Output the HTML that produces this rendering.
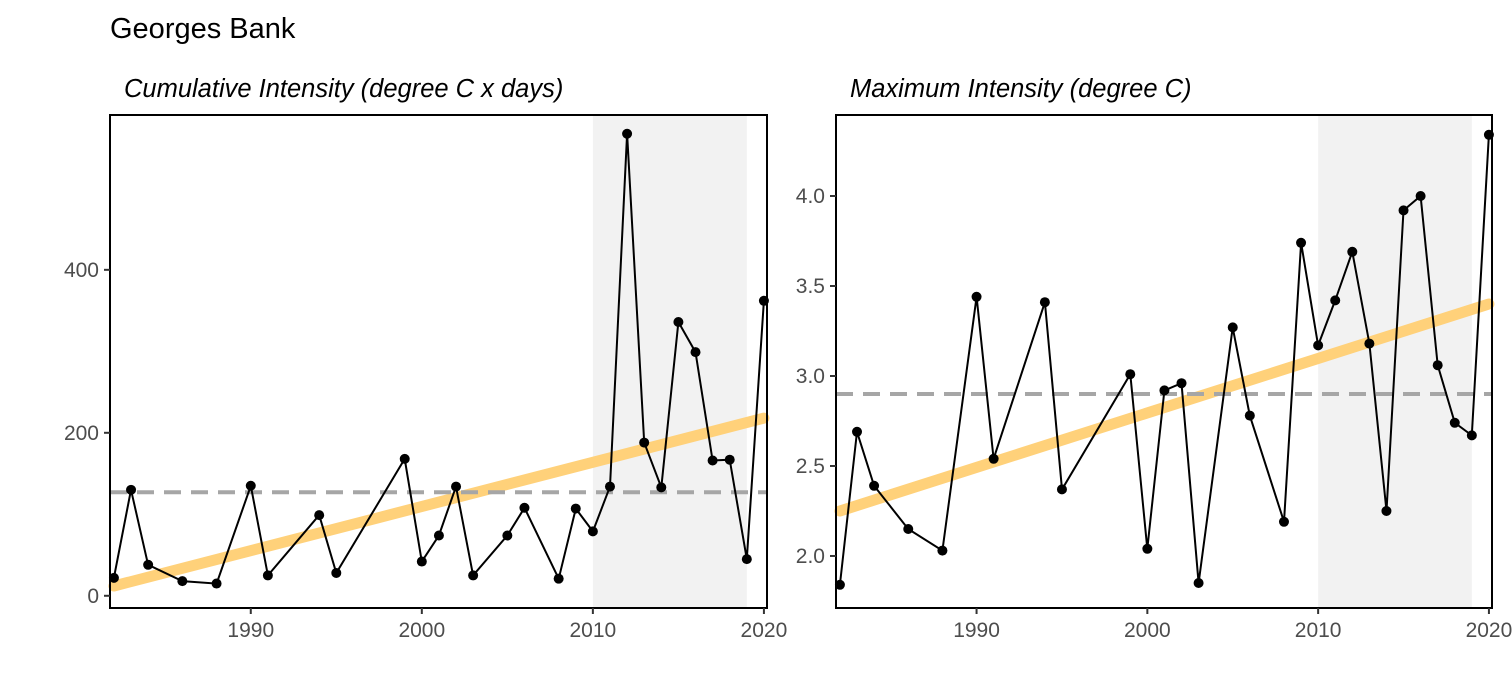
<!DOCTYPE html>
<html><head><meta charset="utf-8"><style>
body{margin:0;background:#fff;}
svg text{font-family:"Liberation Sans",sans-serif;}
</style></head><body>
<svg id="c" width="1512" height="680" xmlns="http://www.w3.org/2000/svg">
<text x="110" y="38" font-size="29" fill="#000">Georges Bank</text>
</svg>
<script>
const years=[1982,1983,1984,1986,1988,1990,1991,1994,1995,1999,2000,2001,2002,2003,2005,2006,2008,2009,2010,2011,2012,2013,2014,2015,2016,2017,2018,2019,2020];
const cumValues=[22,130,38,18,15,135,25,99,28,168,42,74,134,25,74,108,21,107,79,134,567,188,133,336,299,166,167,45,362];
const maxValues=[1.84,2.69,2.39,2.15,2.03,3.44,2.54,3.41,2.37,3.01,2.04,2.92,2.96,1.85,3.27,2.78,2.19,3.74,3.17,3.42,3.69,3.18,2.25,3.92,4.00,3.06,2.74,2.67,4.34];
const cumTrend=[12,218];
const maxTrend=[2.25,3.40];
const cumMean=[127];
const maxMean=[2.90];
const shadeYears=[2010,2019];
const xTicks=[1990,2000,2010,2020];
const cumTicks=[0,200,400];
const maxTicks=[2.0,2.5,3.0,3.5,4.0];
const maxTickLabels=["2.0","2.5","3.0","3.5","4.0"];

const svg=document.getElementById('c');
const NS='http://www.w3.org/2000/svg';
function el(tag,attrs,parent){const e=document.createElementNS(NS,tag);for(const k in attrs)e.setAttribute(k,attrs[k]);(parent||svg).appendChild(e);return e;}

function panel(cfg){
  const g=el('g',{});
  
  
  const L=cfg.left,R=cfg.right,T=115,B=608;
  const x=v=>L+(v-1981.77)/(2020.18-1981.77)*(R-L);
  const y=v=>B-(v-cfg.ymin)/(cfg.ymax-cfg.ymin)*(B-T);
  const sh=el('rect',{x:x(shadeYears[0]),y:T,width:x(shadeYears[1])-x(shadeYears[0]),height:B-T,fill:'#f2f2f2'},g);
  
  
  const tr=el('line',{x1:x(1982),y1:y(cfg.trend[0]),x2:x(2020),y2:y(cfg.trend[1]),stroke:'#ffd17a',"stroke-width":11,"stroke-linecap":"round"},g);
  
  
  const mn=el('line',{x1:L,y1:y(cfg.mean[0]),x2:R,y2:y(cfg.mean[0]),stroke:'#a6a6a6',"stroke-width":4,"stroke-dasharray":"17,10"},g);
  
  
  const pts=years.map((yr,i)=>x(yr).toFixed(1)+','+y(cfg.vals[i]).toFixed(1)).join(' ');
  const pl=el('polyline',{points:pts,fill:'none',stroke:'#000',"stroke-width":2},g);
  
  
  years.forEach((yr,i)=>{
    const c=el('circle',{cx:x(yr),cy:y(cfg.vals[i]),r:5,fill:'#000'},g);
    
    
  });
  const fr=el('rect',{x:L,y:T,width:R-L,height:B-T,fill:'none',stroke:'#000',"stroke-width":2},g);
  
  
  xTicks.forEach(t=>{
    el('line',{x1:x(t),y1:B,x2:x(t),y2:B+6,stroke:'#333',"stroke-width":2},g);
    const tx=el('text',{x:x(t),y:B+29,"font-size":21,fill:'#4d4d4d',"text-anchor":'middle'},g);
    tx.textContent=t;
    
    
  });
  cfg.ticks.forEach((t,i)=>{
    el('line',{x1:L-6,y1:y(t),x2:L,y2:y(t),stroke:'#333',"stroke-width":2},g);
    const tx=el('text',{x:L-11,y:y(t)+7,"font-size":21,fill:'#4d4d4d',"text-anchor":'end'},g);
    tx.textContent=cfg.labels[i];
    
    
  });
  const st=el('text',{x:L+14,y:97,"font-size":25.5,"font-style":'italic',fill:'#000'},g);
  st.textContent=cfg.title;
  
  
}
panel({name:'cumulative-intensity-panel',left:110,right:767,ymin:-15,ymax:590,vals:cumValues,trend:cumTrend,mean:cumMean,ticks:cumTicks,labels:cumTicks.map(String),title:'Cumulative Intensity (degree C x days)'});
panel({name:'maximum-intensity-panel',left:836,right:1492,ymin:1.711,ymax:4.45,vals:maxValues,trend:maxTrend,mean:maxMean,ticks:maxTicks,labels:maxTickLabels,title:'Maximum Intensity (degree C)'});
</script>
</body></html>
